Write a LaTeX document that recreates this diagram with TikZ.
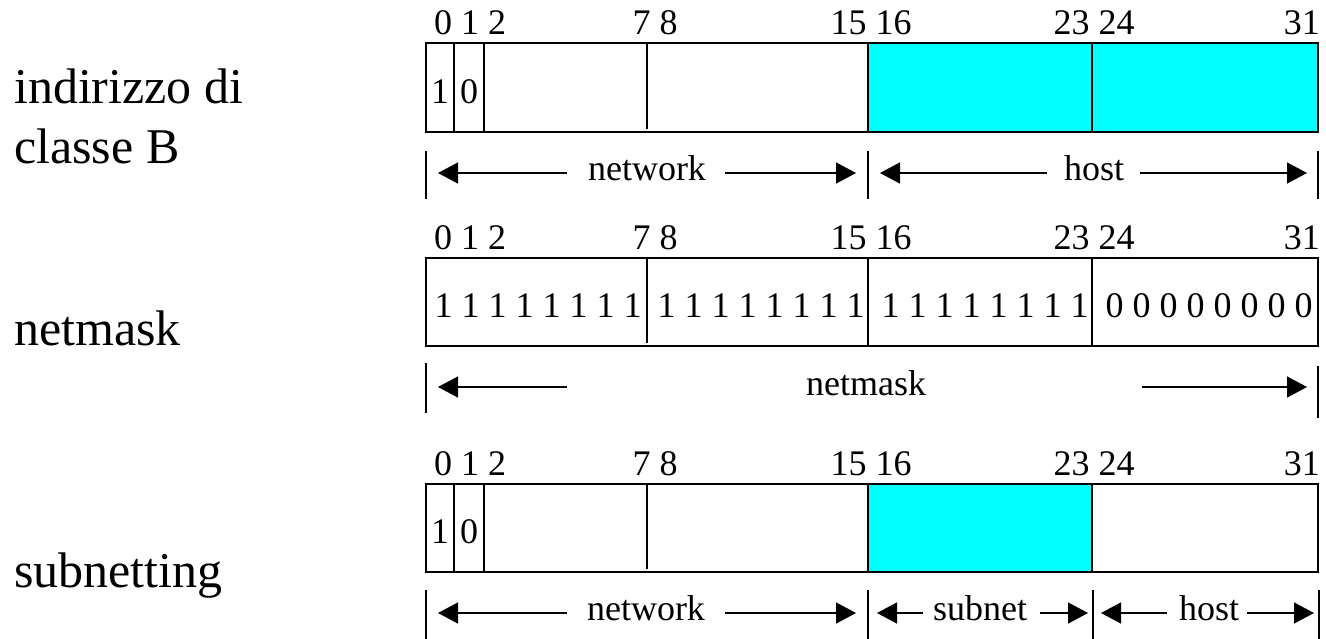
\documentclass[tikz,border=0pt]{standalone}
\usepackage{fontspec}
\setmainfont{Liberation Serif}
\usetikzlibrary{arrows.meta}
\definecolor{fieldcyan}{RGB}{0,255,255}
\tikzset{
  lbl/.style={font=\fontsize{50}{60}\selectfont, inner sep=0pt, anchor=base west},
  num/.style={font=\fontsize{36}{43}\selectfont, inner sep=0pt, anchor=base},
  barframe/.style={draw=black, line width=2pt},
  sepline/.style={draw=black, line width=1.5pt},
  tickline/.style={draw=black, line width=1.5pt},
  spanarrow/.style={draw=black, line width=1.5pt, -{Triangle[length=20pt,width=21pt]}},
}
\begin{document}
\begin{tikzpicture}[x=1pt,y=-1pt]
\useasboundingbox (0,0) rectangle (1326,638);

% ---------- row labels ----------
\node[lbl] (lA) at (14,103) {indirizzo di};
\node[lbl] (lB) at (14,163) {classe B};
\node[lbl] (lC) at (14,345) {netmask};
\node[lbl] (lD) at (14,587) {subnetting};

% ---------- bit numbering above each field ----------
\foreach \r/\y in {1/34, 2/249, 3/475} {
  \node[num, anchor=base west] (b012\r) at (434,\y) {0 1 2};
  \node[num] (b78\r)   at (655,\y) {7 8};
  \node[num] (b1516\r) at (871,\y) {15 16};
  \node[num] (b2324\r) at (1094,\y) {23 24};
  \node[num, anchor=base east] (b31\r) at (1320,\y) {31};
}

% ---------- class B address ----------
\fill[fieldcyan] (868,43) rectangle (1318,132);
\draw[barframe] (426,43) rectangle (1318,132);
\foreach \x in {454,484,868,1092} \draw[sepline] (\x,43) -- (\x,132);
\draw[sepline] (647,43) -- (647,129);
\node[num] (a1) at (440,103) {1};
\node[num] (a0) at (469,103) {0};

% network / host spans
\foreach \x in {426,868,1318} \draw[tickline] (\x,151) -- (\x,199);
\node[num] (net1) at (647,180) {network};
\coordinate (net1l) at (567,173); \coordinate (net1lt) at (438,173);
\coordinate (net1r) at (725,173); \coordinate (net1rt) at (856,173);
\draw[spanarrow] (net1l) -- (net1lt);
\draw[spanarrow] (net1r) -- (net1rt);
\node[num] (host1) at (1094,180) {host};
\coordinate (host1l) at (1047,173); \coordinate (host1lt) at (880,173);
\coordinate (host1r) at (1140,173); \coordinate (host1rt) at (1307,173);
\draw[spanarrow] (host1l) -- (host1lt);
\draw[spanarrow] (host1r) -- (host1rt);

% ---------- netmask ----------
\draw[barframe] (426,258) rectangle (1318,346);
\foreach \x in {868,1092} \draw[sepline] (\x,258) -- (\x,346);
\draw[sepline] (647,258) -- (647,343);
\node[num] (m1) at (538,317) {1 1 1 1 1 1 1 1};
\node[num] (m2) at (761,317) {1 1 1 1 1 1 1 1};
\node[num] (m3) at (985,317) {1 1 1 1 1 1 1 1};
\node[num] (m4) at (1209,317) {0 0 0 0 0 0 0 0};

\draw[tickline] (426,363) -- (426,413);
\draw[tickline] (1318,366) -- (1318,418);
\node[num] (mask) at (866,395) {netmask};
\coordinate (maskl) at (567,387); \coordinate (masklt) at (438,387);
\coordinate (maskr) at (1142,387); \coordinate (maskrt) at (1307,387);
\draw[spanarrow] (maskl) -- (masklt);
\draw[spanarrow] (maskr) -- (maskrt);

% ---------- subnetting ----------
\fill[fieldcyan] (868,484) rectangle (1092,572);
\draw[barframe] (426,484) rectangle (1318,572);
\draw[barframe] (868,484) rectangle (1092,572);
\foreach \x in {454,484} \draw[sepline] (\x,484) -- (\x,572);
\draw[sepline] (647,484) -- (647,569);
\node[num] (s1) at (440,543) {1};
\node[num] (s0) at (469,543) {0};

\foreach \x in {426,868,1093,1319} \draw[tickline] (\x,590) -- (\x,640);
\node[num] (net3) at (646,620) {network};
\coordinate (net3l) at (567,613); \coordinate (net3lt) at (438,613);
\coordinate (net3r) at (725,613); \coordinate (net3rt) at (856,613);
\draw[spanarrow] (net3l) -- (net3lt);
\draw[spanarrow] (net3r) -- (net3rt);
\node[num] (sub3) at (980,620) {subnet};
\coordinate (sub3l) at (923,613); \coordinate (sub3lt) at (877,613);
\coordinate (sub3r) at (1040,613); \coordinate (sub3rt) at (1088,613);
\draw[spanarrow] (sub3l) -- (sub3lt);
\draw[spanarrow] (sub3r) -- (sub3rt);
\node[num] (host3) at (1209,620) {host};
\coordinate (host3l) at (1167,613); \coordinate (host3lt) at (1101,613);
\coordinate (host3r) at (1247,613); \coordinate (host3rt) at (1314,613);
\draw[spanarrow] (host3l) -- (host3lt);
\draw[spanarrow] (host3r) -- (host3rt);
\end{tikzpicture}
\end{document}
